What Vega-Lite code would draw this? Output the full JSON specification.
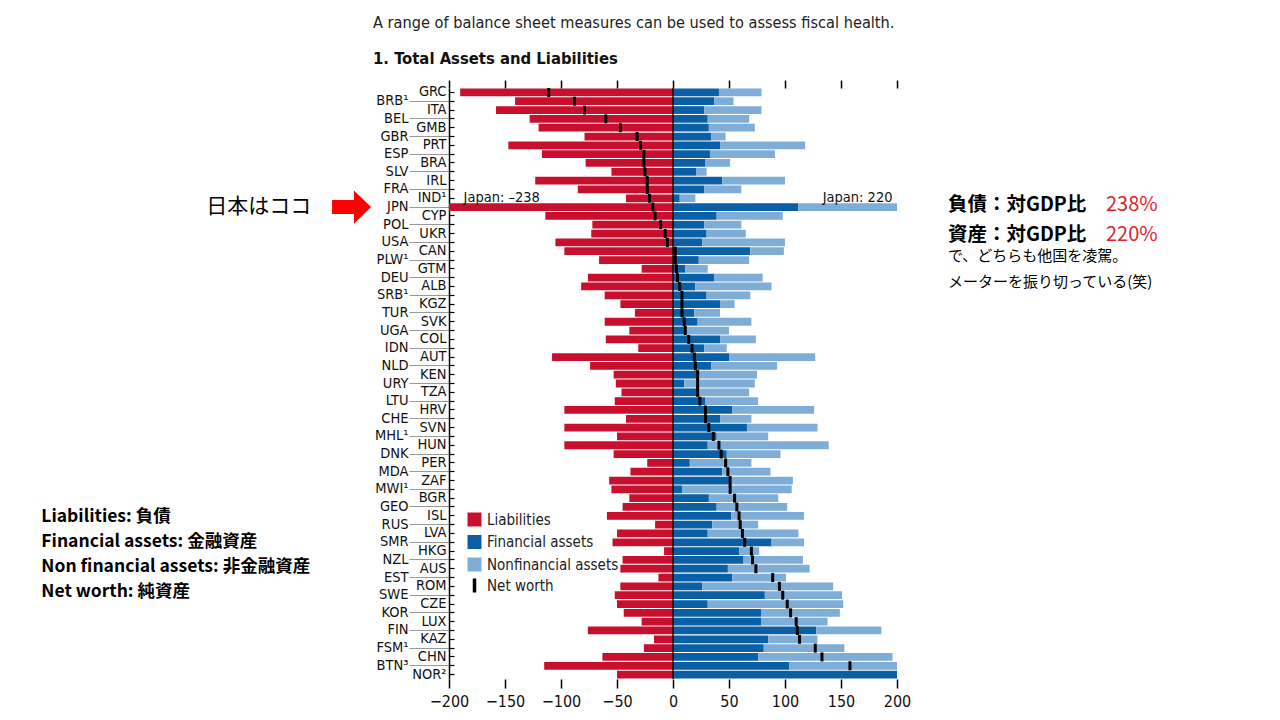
{
  "$schema": "https://vega.github.io/schema/vega-lite/v6.json",
  "width": 448,
  "height": 591,
  "autosize": {"type": "none"},
  "padding": {"left": 449, "top": 88, "right": 383, "bottom": 41},
  "background": "white",
  "config": {
    "view": {"stroke": null},
    "font": "Liberation Sans Narrow, Arial Narrow, DejaVu Sans Condensed, sans-serif",
    "axis": {"labelFont": "Liberation Sans Narrow, Arial Narrow, DejaVu Sans Condensed, sans-serif", "grid": false},
    "legend": {"labelFont": "Liberation Sans Narrow, Arial Narrow, DejaVu Sans Condensed, sans-serif"}
  },
  "title": {
    "text": "A range of balance sheet measures can be used to assess fiscal health.",
    "subtitle": "1. Total Assets and Liabilities",
    "anchor": "start",
    "frame": "group",
    "dx": -76,
    "offset": 12,
    "font": "Liberation Sans Narrow, Arial Narrow, DejaVu Sans Condensed, sans-serif",
    "fontSize": 16.2,
    "fontWeight": "normal",
    "color": "#222",
    "subtitleFont": "Liberation Sans Narrow, Arial Narrow, DejaVu Sans Condensed, sans-serif",
    "subtitleFontSize": 16.5,
    "subtitleFontWeight": "bold",
    "subtitleColor": "#111",
    "subtitlePadding": 20
  },
  "data": {"values": [
    {"c":"GRC","liab":-190,"fin":41,"assets":79,"net":-111},
    {"c":"BRB¹","liab":-141,"fin":37,"assets":54,"net":-88},
    {"c":"ITA","liab":-158,"fin":28,"assets":79,"net":-79},
    {"c":"BEL","liab":-128,"fin":31,"assets":68,"net":-60},
    {"c":"GMB","liab":-120,"fin":32,"assets":73,"net":-47},
    {"c":"GBR","liab":-79,"fin":34,"assets":47,"net":-32},
    {"c":"PRT","liab":-147,"fin":42,"assets":118,"net":-29},
    {"c":"ESP","liab":-117,"fin":33,"assets":91,"net":-26},
    {"c":"BRA","liab":-78,"fin":29,"assets":51,"net":-26},
    {"c":"SLV","liab":-55,"fin":21,"assets":30,"net":-25},
    {"c":"IRL","liab":-123,"fin":44,"assets":100,"net":-23},
    {"c":"FRA","liab":-85,"fin":28,"assets":61,"net":-23},
    {"c":"IND¹","liab":-42,"fin":6,"assets":20,"net":-21},
    {"c":"JPN","liab":-238,"fin":112,"assets":220,"net":-18},
    {"c":"CYP","liab":-114,"fin":39,"assets":98,"net":-16},
    {"c":"POL","liab":-72,"fin":28,"assets":61,"net":-11},
    {"c":"UKR","liab":-73,"fin":30,"assets":65,"net":-7},
    {"c":"USA","liab":-105,"fin":26,"assets":100,"net":-5},
    {"c":"CAN","liab":-97,"fin":69,"assets":99,"net":2},
    {"c":"PLW¹","liab":-66,"fin":23,"assets":68,"net":2},
    {"c":"GTM","liab":-28,"fin":11,"assets":31,"net":3},
    {"c":"DEU","liab":-76,"fin":37,"assets":80,"net":4},
    {"c":"ALB","liab":-82,"fin":20,"assets":88,"net":6},
    {"c":"SRB¹","liab":-61,"fin":30,"assets":69,"net":8},
    {"c":"KGZ","liab":-47,"fin":42,"assets":55,"net":8},
    {"c":"TUR","liab":-34,"fin":19,"assets":42,"net":8},
    {"c":"SVK","liab":-61,"fin":22,"assets":70,"net":10},
    {"c":"UGA","liab":-39,"fin":10,"assets":50,"net":11},
    {"c":"COL","liab":-60,"fin":42,"assets":74,"net":14},
    {"c":"IDN","liab":-31,"fin":28,"assets":48,"net":17},
    {"c":"AUT","liab":-108,"fin":50,"assets":127,"net":19},
    {"c":"NLD","liab":-74,"fin":34,"assets":93,"net":20},
    {"c":"KEN","liab":-53,"fin":22,"assets":75,"net":22},
    {"c":"URY","liab":-51,"fin":10,"assets":73,"net":22},
    {"c":"TZA","liab":-46,"fin":22,"assets":68,"net":22},
    {"c":"LTU","liab":-52,"fin":29,"assets":76,"net":24},
    {"c":"HRV","liab":-97,"fin":53,"assets":126,"net":29},
    {"c":"CHE","liab":-42,"fin":42,"assets":70,"net":29},
    {"c":"SVN","liab":-97,"fin":66,"assets":129,"net":32},
    {"c":"MHL¹","liab":-50,"fin":39,"assets":85,"net":36},
    {"c":"HUN","liab":-97,"fin":31,"assets":139,"net":41},
    {"c":"DNK","liab":-53,"fin":48,"assets":96,"net":43},
    {"c":"PER","liab":-23,"fin":15,"assets":70,"net":47},
    {"c":"MDA","liab":-38,"fin":44,"assets":87,"net":49},
    {"c":"ZAF","liab":-57,"fin":50,"assets":107,"net":51},
    {"c":"MWI¹","liab":-55,"fin":8,"assets":106,"net":51},
    {"c":"BGR","liab":-39,"fin":32,"assets":94,"net":55},
    {"c":"GEO","liab":-45,"fin":39,"assets":102,"net":57},
    {"c":"ISL","liab":-59,"fin":52,"assets":117,"net":59},
    {"c":"RUS","liab":-16,"fin":35,"assets":76,"net":60},
    {"c":"LVA","liab":-50,"fin":31,"assets":112,"net":62},
    {"c":"SMR","liab":-54,"fin":88,"assets":117,"net":64},
    {"c":"HKG","liab":-8,"fin":59,"assets":77,"net":70},
    {"c":"NZL","liab":-45,"fin":63,"assets":116,"net":71},
    {"c":"AUS","liab":-47,"fin":49,"assets":122,"net":74},
    {"c":"EST","liab":-13,"fin":53,"assets":101,"net":89},
    {"c":"ROM","liab":-47,"fin":26,"assets":143,"net":95},
    {"c":"SWE","liab":-52,"fin":82,"assets":151,"net":98},
    {"c":"CZE","liab":-50,"fin":31,"assets":152,"net":102},
    {"c":"KOR","liab":-44,"fin":79,"assets":149,"net":105},
    {"c":"LUX","liab":-28,"fin":79,"assets":138,"net":110},
    {"c":"FIN","liab":-76,"fin":128,"assets":186,"net":111},
    {"c":"KAZ","liab":-17,"fin":85,"assets":129,"net":113},
    {"c":"FSM¹","liab":-26,"fin":81,"assets":153,"net":127},
    {"c":"CHN","liab":-63,"fin":76,"assets":196,"net":133},
    {"c":"BTN³","liab":-115,"fin":104,"assets":273,"net":158},
    {"c":"NOR²","liab":-50,"fin":250,"assets":265,"net":215}
  ]},
  "resolve": {"axis": {"x": "independent", "y": "independent"}},
  "layer": [
    {
      "mark": {"type": "bar", "clip": true},
      "encoding": {
        "x": {"field": "liab", "type": "quantitative",
          "scale": {"domain": [-200, 200], "nice": false, "zero": false},
          "axis": {"orient": "bottom", "values": [-200,-150,-100,-50,0,50,100,150,200], "labelFlush": false, "labelOverlap": false, "domain": false, "grid": false, "ticks": true, "tickSize": 9, "tickWidth": 1.5, "tickColor": "#000", "labelFontSize": 16, "labelPadding": 5, "labelColor": "#111", "title": null}},
        "x2": {"datum": 0},
        "y": {"field": "c", "type": "nominal",
          "scale": {"domain": ["GRC","BRB¹","ITA","BEL","GMB","GBR","PRT","ESP","BRA","SLV","IRL","FRA","IND¹","JPN","CYP","POL","UKR","USA","CAN","PLW¹","GTM","DEU","ALB","SRB¹","KGZ","TUR","SVK","UGA","COL","IDN","AUT","NLD","KEN","URY","TZA","LTU","HRV","CHE","SVN","MHL¹","HUN","DNK","PER","MDA","ZAF","MWI¹","BGR","GEO","ISL","RUS","LVA","SMR","HKG","NZL","AUS","EST","ROM","SWE","CZE","KOR","LUX","FIN","KAZ","FSM¹","CHN","BTN³","NOR²"], "paddingInner": 0.12, "paddingOuter": 0.06},
          "axis": {"orient": "left", "offset": -5, "domain": false, "ticks": true, "tickSize": 5, "tickColor": "#000", "tickWidth": 1.2, "labelPadding": 3, "labelFontSize": 14.5, "labelColor": "#111", "title": null,
            "labelExpr": "indexof(['BRB¹','BEL','GBR','ESP','SLV','FRA','JPN','POL','USA','PLW¹','DEU','SRB¹','TUR','UGA','IDN','NLD','URY','LTU','CHE','MHL¹','DNK','MDA','MWI¹','GEO','RUS','SMR','NZL','EST','SWE','KOR','FIN','FSM¹','BTN³'], datum.value) >= 0 ? '' : datum.value"}},
        "fill": {"datum": "Liabilities",
          "scale": {"domain": ["Liabilities", "Financial assets", "Nonfinancial assets"], "range": ["#c8102e", "#0b5fa5", "#7eaed8"]},
          "legend": {"orient": "none", "legendX": 18, "legendY": 424, "title": null, "symbolType": "square", "symbolSize": 196, "symbolStrokeWidth": 0, "labelFontSize": 15, "labelColor": "#222", "rowPadding": 6.5, "labelOffset": 5, "padding": 0}}
      }
    },
    {
      "mark": {"type": "bar", "clip": true},
      "encoding": {
        "x": {"field": "fin", "type": "quantitative",
          "axis": {"orient": "top", "values": [-200,-150,-100,-50,0,50,100,150,200], "labels": false, "domain": false, "grid": false, "tickSize": 8, "tickWidth": 1.5, "tickColor": "#000", "title": null}},
        "x2": {"datum": 0},
        "y": {"field": "c", "type": "nominal",
          "axis": {"orient": "left", "domain": true, "domainColor": "#000", "domainWidth": 1.5, "ticks": true, "tickSize": 40, "tickColor": "#999", "tickWidth": 1,
            "tickOpacity": {"condition": {"test": "indexof(['BRB¹','BEL','GBR','ESP','SLV','FRA','JPN','POL','USA','PLW¹','DEU','SRB¹','TUR','UGA','IDN','NLD','URY','LTU','CHE','MHL¹','DNK','MDA','MWI¹','GEO','RUS','SMR','NZL','EST','SWE','KOR','FIN','FSM¹','BTN³'], datum.value) >= 0", "value": 1}, "value": 0},
            "labelPadding": 1, "labelFontSize": 14.5, "labelColor": "#111", "title": null,
            "labelExpr": "indexof(['BRB¹','BEL','GBR','ESP','SLV','FRA','JPN','POL','USA','PLW¹','DEU','SRB¹','TUR','UGA','IDN','NLD','URY','LTU','CHE','MHL¹','DNK','MDA','MWI¹','GEO','RUS','SMR','NZL','EST','SWE','KOR','FIN','FSM¹','BTN³'], datum.value) >= 0 ? datum.value : ''"}},
        "fill": {"datum": "Financial assets"}
      }
    },
    {
      "mark": {"type": "bar", "clip": true},
      "encoding": {
        "x": {"field": "fin", "type": "quantitative", "axis": null},
        "x2": {"field": "assets"},
        "y": {"field": "c", "type": "nominal", "axis": null},
        "fill": {"datum": "Nonfinancial assets"}
      }
    },
    {
      "data": {"values": [{"v": 0}]},
      "mark": {"type": "rule", "color": "#000", "strokeWidth": 1.3},
      "encoding": {"x": {"field": "v", "type": "quantitative", "axis": null}}
    },
    {
      "mark": {"type": "tick", "thickness": 3, "size": 9, "clip": true, "opacity": 1},
      "encoding": {
        "x": {"field": "net", "type": "quantitative", "axis": null},
        "y": {"field": "c", "type": "nominal", "axis": null},
        "color": {"datum": "Net worth", "scale": {"range": ["#000000"]},
          "legend": {"orient": "none", "legendX": 18, "legendY": 490, "title": null, "symbolType": "M-0.25,-1H0.25V1H-0.25Z", "symbolSize": 196, "symbolFillColor": "#000", "symbolStrokeWidth": 0, "labelFontSize": 15, "labelColor": "#222", "labelOffset": 5, "padding": 0}}
      }
    },
    {
      "data": {"values": [{"t": "Japan: –238"}]},
      "mark": {"type": "text", "align": "left", "baseline": "middle", "fontSize": 14.5, "color": "#111"},
      "encoding": {"x": {"datum": -187, "axis": null}, "y": {"datum": "IND¹", "axis": null}, "text": {"field": "t"}}
    },
    {
      "data": {"values": [{"t": "Japan: 220"}]},
      "mark": {"type": "text", "align": "right", "baseline": "middle", "fontSize": 14.5, "color": "#111"},
      "encoding": {"x": {"datum": 196, "axis": null}, "y": {"datum": "IND¹", "axis": null}, "text": {"field": "t"}}
    },
    {
      "data": {"values": [{"t": "日本はココ"}]},
      "mark": {"type": "text", "align": "right", "baseline": "middle", "font": "Noto Sans CJK JP", "fontSize": 21, "color": "#000"},
      "encoding": {"x": {"datum": -323, "axis": null}, "y": {"datum": "JPN", "axis": null}, "text": {"field": "t"}}
    },
    {
      "data": {"values": [{"t": "arrow"}]},
      "mark": {"type": "point", "shape": "M-1,-0.36H0.12V-0.85L1,0L0.12,0.85V0.36H-1Z", "size": 1521, "filled": true, "fill": "#ff0000", "opacity": 1, "strokeWidth": 0},
      "encoding": {"x": {"datum": -287, "axis": null}, "y": {"datum": "JPN", "axis": null}}
    },
    {
      "data": {"values": [{"t": "負債：対GDP比"}]},
      "mark": {"type": "text", "align": "left", "baseline": "middle", "font": "Noto Sans CJK JP", "fontSize": 19.5, "fontWeight": "bold", "color": "#000", "dy": -2},
      "encoding": {"x": {"datum": 245.5, "axis": null}, "y": {"datum": "JPN", "axis": null}, "text": {"field": "t"}}
    },
    {
      "data": {"values": [{"t": "238%"}]},
      "mark": {"type": "text", "align": "left", "baseline": "middle", "font": "Noto Sans CJK JP", "fontSize": 20, "color": "#d9262c", "dy": -2},
      "encoding": {"x": {"datum": 386.6, "axis": null}, "y": {"datum": "JPN", "axis": null}, "text": {"field": "t"}}
    },
    {
      "data": {"values": [{"t": "資産：対GDP比"}]},
      "mark": {"type": "text", "align": "left", "baseline": "middle", "font": "Noto Sans CJK JP", "fontSize": 19.5, "fontWeight": "bold", "color": "#000", "dy": 1},
      "encoding": {"x": {"datum": 245.5, "axis": null}, "y": {"datum": "UKR", "axis": null}, "text": {"field": "t"}}
    },
    {
      "data": {"values": [{"t": "220%"}]},
      "mark": {"type": "text", "align": "left", "baseline": "middle", "font": "Noto Sans CJK JP", "fontSize": 20, "color": "#d9262c", "dy": 1},
      "encoding": {"x": {"datum": 386.6, "axis": null}, "y": {"datum": "UKR", "axis": null}, "text": {"field": "t"}}
    },
    {
      "data": {"values": [{"t": ["で、どちらも他国を凌駕。", "メーターを振り切っている(笑)"]}]},
      "mark": {"type": "text", "align": "left", "baseline": "top", "font": "Noto Sans CJK JP", "fontSize": 15, "lineHeight": 26, "dy": -2, "color": "#000"},
      "encoding": {"x": {"datum": 245.5, "axis": null}, "y": {"datum": "CAN", "axis": null}, "text": {"field": "t"}}
    },
    {
      "data": {"values": [{"t": ["Liabilities: 負債", "Financial assets: 金融資産", "Non financial assets: 非金融資産", "Net worth: 純資産"]}]},
      "mark": {"type": "text", "align": "left", "baseline": "top", "font": "Noto Sans CJK JP", "fontSize": 17.5, "fontWeight": "bold", "lineHeight": 25, "dy": 1, "color": "#000"},
      "encoding": {"x": {"datum": -564, "axis": null}, "y": {"datum": "GEO", "axis": null}, "text": {"field": "t"}}
    }
  ]
}
